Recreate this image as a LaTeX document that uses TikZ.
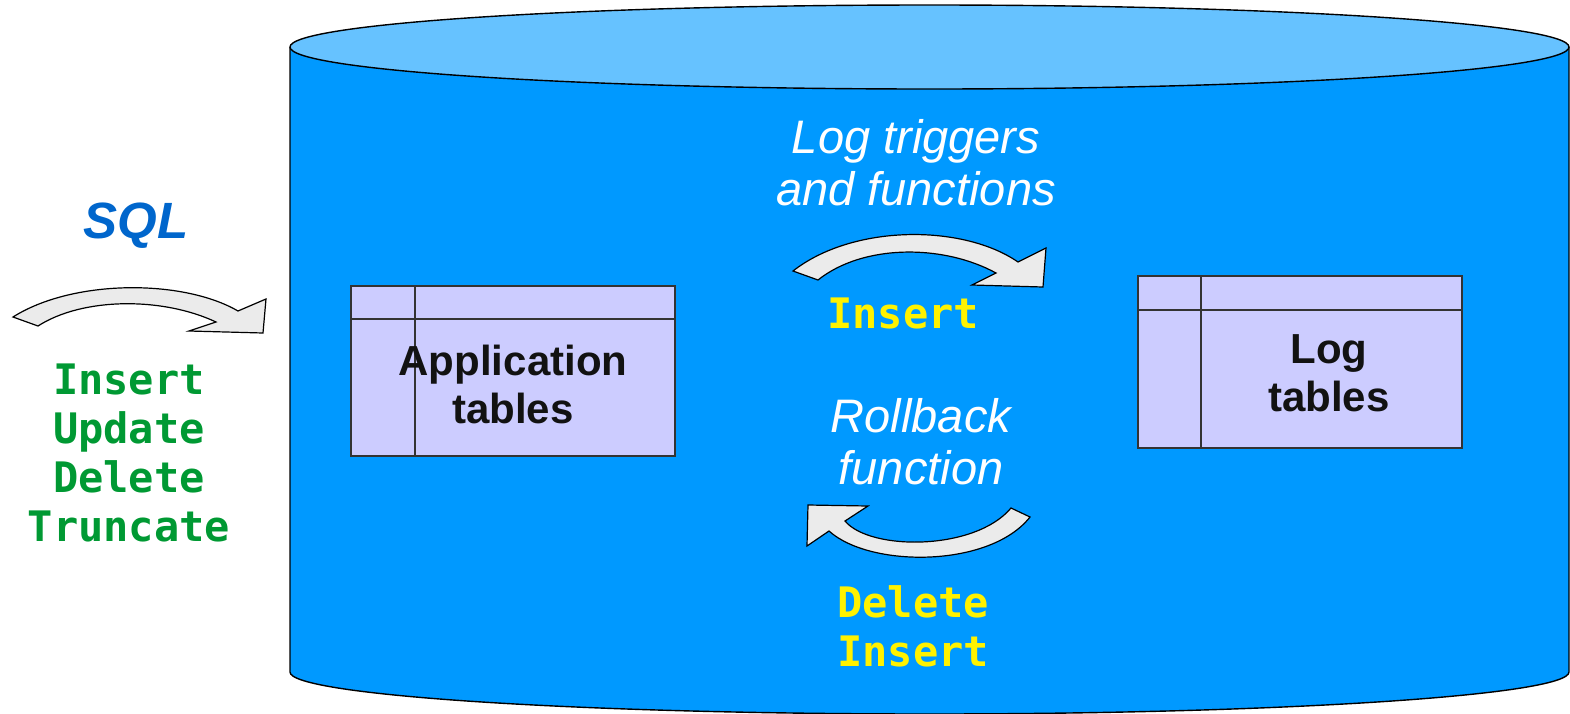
\documentclass[tikz,border=0pt]{standalone}
\usepackage{fontspec}
\setmainfont{Liberation Sans}
\setsansfont{Liberation Sans}
\setmonofont{DejaVu Sans Mono}
\usetikzlibrary{arrows,shapes}

\definecolor{dbblue}{RGB}{0,153,255}
\definecolor{dbtop}{RGB}{102,194,255}
\definecolor{tablefill}{RGB}{204,204,255}
\definecolor{sqlblue}{RGB}{0,102,204}
\definecolor{cmdgreen}{RGB}{0,153,51}
\definecolor{arrowgray}{RGB}{235,235,235}

\tikzset{
  bigarrow/.style={draw=black, line width=0.6pt, fill=arrowgray, line join=miter},
  tablebox/.style={draw=black!80, line width=0.6pt, fill=tablefill},
  tableline/.style={draw=black!80, line width=0.6pt},
  tablename/.style={font=\bfseries\fontsize{21}{24}\selectfont, text=black!93, align=center, inner sep=0pt},
  note/.style={font=\itshape\fontsize{23.5}{26}\selectfont, text=white, align=center, inner sep=0pt},
  cmd/.style={font=\ttfamily\bfseries\fontsize{21}{24.5}\selectfont, align=center, inner sep=0pt},
}

\begin{document}
\begin{tikzpicture}[x=0.5pt, y=-0.5pt]

\useasboundingbox (0,0) rectangle (1570,713);
\clip (0,0) rectangle (1570,713);

% database
\filldraw[fill=dbblue, draw=black, line width=0.7pt] (290,47) -- (290,672)
  arc[start angle=180, end angle=0, x radius=639.5, y radius=42] -- (1569,47);
\filldraw[fill=dbtop, draw=black, line width=0.7pt] (929.5,47) ellipse [x radius=639.5, y radius=42];

% tables
\draw[tablebox] (351,286) rectangle (675,456);
\draw[tableline] (351,319) -- (675,319) (415,286) -- (415,456);
\draw[tablebox] (1138,276) rectangle (1462,448);
\draw[tableline] (1138,310) -- (1462,310) (1201,276) -- (1201,448);

% arrows
\draw[bigarrow] (13,317) .. controls (73,279) and (183,279) .. (238,311) -- (266,299) -- (263,333)
  -- (189,331) -- (216,322) .. controls (163,297) and (83,297) .. (38,326) -- cycle;
\draw[bigarrow] (793,271) .. controls (853,224) and (963,224) .. (1018,262) -- (1046,248) -- (1043,287)
  -- (972,285) -- (996,273) .. controls (943,244) and (863,244) .. (818,280) -- cycle;
\draw[bigarrow] (1030,517) .. controls (990,568) and (870,568) .. (829,531) -- (807,546) -- (808,505)
  -- (868,506) -- (845,521) .. controls (870,551) and (975,551) .. (1011,508) -- cycle;

\node[font=\bfseries\itshape\fontsize{25.5}{28}\selectfont, text=sqlblue, inner sep=0pt] (sql) at (136,226) {SQL};
\node[cmd, text=cmdgreen] (sqlcmds) at (129,453) {Insert\\Update\\Delete\\Truncate};

\node[tablename] (apptables) at (513,384) {Application\\tables};
\node[tablename] (logtables) at (1329,373.5) {Log\\tables};

\node[note] (triggers) at (916,163) {Log triggers\\and functions};
\node[cmd, text=yellow] (insert) at (903,313) {Insert};
\node[note] (rollback) at (921,442) {Rollback\\function};
\node[cmd, text=yellow] (undo) at (913,626) {Delete\\Insert};

\end{tikzpicture}
\end{document}
